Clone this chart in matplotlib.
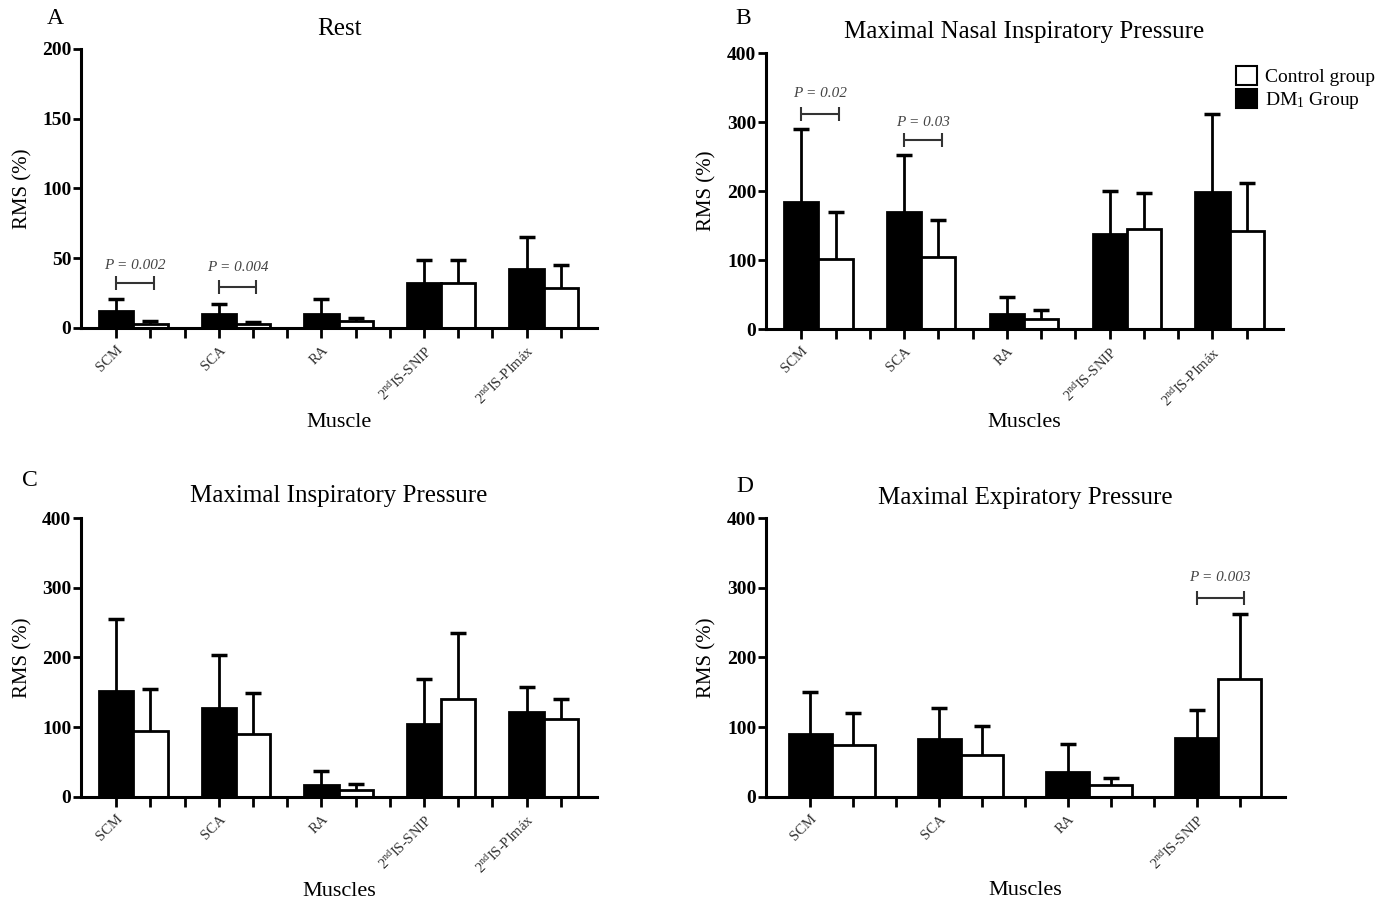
import numpy as np
import matplotlib
matplotlib.use("Agg")
import matplotlib.pyplot as plt
from matplotlib.patches import Patch

plt.rcParams["font.family"] = ["Liberation Serif", "DejaVu Serif"]
plt.rcParams["mathtext.fontset"] = "custom"
plt.rcParams["mathtext.rm"] = "Liberation Serif"
plt.rcParams["mathtext.it"] = "Liberation Serif:italic"

# Muscles per panel
muscles5 = ["SCM", "SCA", "RA", r"2$^{\mathrm{nd}}$IS-SNIP", r"2$^{\mathrm{nd}}$IS-PImáx"]
muscles4 = ["SCM", "SCA", "RA", r"2$^{\mathrm{nd}}$IS-SNIP"]

# A - Rest
rest_dm = [12, 10, 10, 32.5, 42]
rest_dm_sd = [8.5, 7.5, 10.5, 16.5, 23]
rest_ctrl = [3, 2.5, 5.3, 32, 29]
rest_ctrl_sd = [1.8, 1.5, 1.5, 16.5, 16]

# B - Maximal Nasal Inspiratory Pressure
snip_dm = [184, 169, 22, 138, 199]
snip_dm_sd = [106, 83, 24, 62, 113]
snip_ctrl = [102, 105, 14, 145.5, 142]
snip_ctrl_sd = [67.5, 53, 13, 51.5, 69]

# C - Maximal Inspiratory Pressure
pimax_dm = [152, 128, 17.6, 104.5, 122]
pimax_dm_sd = [103, 76, 20, 65, 36]
pimax_ctrl = [94, 90, 10.5, 140, 112]
pimax_ctrl_sd = [61, 59, 8, 95, 29]

# D - Maximal Expiratory Pressure
pemax_dm = [90, 83, 36.4, 84]
pemax_dm_sd = [61, 44, 40, 41]
pemax_ctrl = [74, 60, 17, 169]
pemax_ctrl_sd = [46, 42, 10, 93]

# significance brackets: (text, group, bracket y, text y)
rest_p = [("P = 0.002", 0, 32, 44.5), ("P = 0.004", 1, 29.6, 43)]
snip_p = [("P = 0.02", 0, 312, 341), ("P = 0.03", 1, 274, 299)]
pemax_p = [("P = 0.003", 3, 286, 314)]

panels = [
    dict(letter="A", title="Rest", xlabel="Muscle", ymax=200, ystep=50,
         names=muscles5, dm=rest_dm, dm_sd=rest_dm_sd, ctrl=rest_ctrl, ctrl_sd=rest_ctrl_sd,
         p=rest_p, rect=[0.0583, 0.6352, 0.3712, 0.3103], letter_xy=(0.040, 0.979),
         title_y=1.07, xlab_y=-0.34, legend=False),
    dict(letter="B", title="Maximal Nasal Inspiratory Pressure", xlabel="Muscles", ymax=400, ystep=100,
         names=muscles5, dm=snip_dm, dm_sd=snip_dm_sd, ctrl=snip_ctrl, ctrl_sd=snip_ctrl_sd,
         p=snip_p, rect=[0.5511, 0.634, 0.3719, 0.307], letter_xy=(0.5345, 0.979),
         title_y=1.075, xlab_y=-0.34, legend=True),
    dict(letter="C", title="Maximal Inspiratory Pressure", xlabel="Muscles", ymax=400, ystep=100,
         names=muscles5, dm=pimax_dm, dm_sd=pimax_dm_sd, ctrl=pimax_ctrl, ctrl_sd=pimax_ctrl_sd,
         p=[], rect=[0.0583, 0.1135, 0.3712, 0.3103], letter_xy=(0.0216, 0.465),
         title_y=1.078, xlab_y=-0.34, legend=False),
    dict(letter="D", title="Maximal Expiratory Pressure", xlabel="Muscles", ymax=400, ystep=100,
         names=muscles4, dm=pemax_dm, dm_sd=pemax_dm_sd, ctrl=pemax_ctrl, ctrl_sd=pemax_ctrl_sd,
         p=pemax_p, rect=[0.5511, 0.1135, 0.3734, 0.3103], letter_xy=(0.536, 0.459),
         title_y=1.07, xlab_y=-0.335, legend=False),
]

fig = plt.figure(figsize=(13.9, 8.99), dpi=100)

for pn in panels:
    ax = fig.add_axes(pn["rect"])
    n = len(pn["names"])
    x_dm = np.arange(n) * 3
    x_ctrl = x_dm + 1

    ax.bar(x_dm, pn["dm"], width=1.0, color="black", edgecolor="black", linewidth=2, zorder=2)
    ax.bar(x_ctrl, pn["ctrl"], width=1.0, color="white", edgecolor="black", linewidth=2, zorder=2)
    for xs, ys, sds in [(x_dm, pn["dm"], pn["dm_sd"]), (x_ctrl, pn["ctrl"], pn["ctrl_sd"])]:
        eb = ax.errorbar(xs, ys, yerr=[np.zeros(n), sds], fmt="none", ecolor="black",
                         elinewidth=2, capsize=6, capthick=2.5, zorder=3)
        # one-sided SD bars: hide the cap sitting on the bar top
        eb[1][0].set_visible(False)

    for txt, g, by, ty in pn["p"]:
        ax.errorbar(g * 3 + 0.55, by, xerr=0.55, fmt="none", ecolor="#333333",
                    elinewidth=1.5, capsize=5, capthick=1.5)
        ax.text(g * 3 + 0.55, ty, txt, ha="center", va="center", fontsize=11,
                style="italic", color="#444444")

    ax.set_xlim(-1.03, 3 * n - 0.94)
    ax.set_ylim(0, pn["ymax"])
    ax.set_yticks(np.arange(0, pn["ymax"] + 1, pn["ystep"]))
    ax.set_xticks(np.arange(3 * n - 1))
    labels = []
    for i in range(3 * n - 1):
        labels.append(pn["names"][i // 3] if i % 3 == 0 else "")
    ax.set_xticklabels(labels, rotation=45, ha="right", rotation_mode="anchor",
                       fontsize=10.5, color="#333333")
    for lab in ax.get_yticklabels():
        lab.set_fontweight("bold")
        lab.set_fontsize(14)

    ax.spines["top"].set_visible(False)
    ax.spines["right"].set_visible(False)
    ax.spines["left"].set_linewidth(2.2)
    ax.spines["bottom"].set_linewidth(2.2)
    ax.tick_params(axis="x", direction="out", length=7, width=2, pad=4)
    ax.tick_params(axis="y", direction="out", length=6, width=2, pad=1)

    ax.set_ylabel("RMS (%)", fontsize=15)
    ax.yaxis.set_label_coords(-0.095, 0.5)
    ax.set_xlabel(pn["xlabel"], fontsize=16)
    ax.xaxis.set_label_coords(0.5, pn["xlab_y"])
    ax.xaxis.label.set_va("center")
    ax.text(0.5, pn["title_y"], pn["title"], transform=ax.transAxes, ha="center",
            va="center", fontsize=18)
    fig.text(pn["letter_xy"][0], pn["letter_xy"][1], pn["letter"], fontsize=17,
             ha="center", va="center")

    if pn["legend"]:
        handles = [Patch(facecolor="white", edgecolor="black", linewidth=1.5, label="Control group"),
                   Patch(facecolor="black", edgecolor="black", linewidth=1.5, label=r"DM$_1$ Group")]
        ax.legend(handles=handles, loc="upper left", bbox_to_anchor=(0.909, 0.953),
                  frameon=False, fontsize=14, handlelength=1.1, handleheight=1.1,
                  handletextpad=0.4, labelspacing=0.15, borderpad=0, borderaxespad=0)

fig.savefig("out.png", dpi=100, facecolor="white")
